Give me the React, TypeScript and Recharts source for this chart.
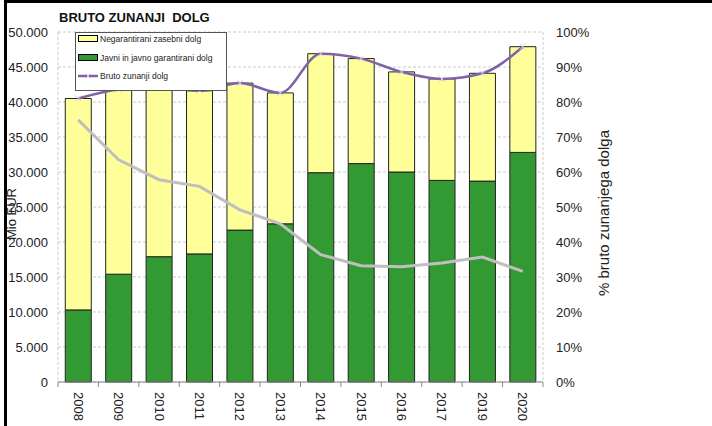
import { Bar, CartesianGrid, ComposedChart, Legend, Line, XAxis, YAxis } from "recharts";

const years = ["2008", "2009", "2010", "2011", "2012", "2013", "2014", "2015", "2016", "2017", "2019", "2020"];
// mio EUR
const javniDolg = [10300, 15400, 17900, 18300, 21700, 22600, 29900, 31200, 30000, 28800, 28700, 32800];
const zasebniDolg = [30200, 26400, 24200, 23300, 21000, 18700, 17000, 15000, 14300, 14500, 15400, 15100];
const brutoDolg = [40500, 41800, 42100, 41600, 42700, 41300, 46900, 46200, 44300, 43300, 44100, 47900];
// % (desna os)
const delez = [74.9, 63.5, 57.8, 55.9, 49.2, 45.2, 36.4, 33.2, 32.9, 34.0, 35.7, 31.6];

const leftTicks = [0, 5000, 10000, 15000, 20000, 25000, 30000, 35000, 40000, 45000, 50000];
const rightTicks = [0, 10, 20, 30, 40, 50, 60, 70, 80, 90, 100];

const data = years.map((year, i) => ({
  year,
  javni: javniDolg[i],
  zasebni: zasebniDolg[i],
  bruto: brutoDolg[i],
  delez: delez[i],
}));

const FONT = "'Liberation Sans', Arial, sans-serif";
const YELLOW = "#FFFF99";
const GREEN = "#339933";
const PURPLE = "#7F63A8";
const GREY = "#BFBFBF";

const fmtThousands = (v: number) => (v === 0 ? "0" : `${Math.floor(v / 1000)}.${String(v % 1000).padStart(3, "0")}`);

function YearTick(props: any) {
  const { x, y, payload, index } = props;
  const half = payload?.offset ?? 20.2;
  const axisY = y - 8;
  return (
    <g>
      <line x1={x - half} x2={x - half} y1={axisY} y2={axisY + 5} stroke="#888" />
      {index === years.length - 1 && (
        <line x1={x + half} x2={x + half} y1={axisY} y2={axisY + 5} stroke="#888" />
      )}
      <text
        transform={`translate(${x},${y + 2}) rotate(90)`}
        textAnchor="start"
        dominantBaseline="central"
        fontSize={13}
        fill="#222"
        fontFamily={FONT}
      >
        {payload.value}
      </text>
    </g>
  );
}

function CrossDot(props: any) {
  const { cx, cy } = props;
  if (cx == null || cy == null) return null;
  return (
    <path
      d={`M${cx - 3},${cy - 3}L${cx + 3},${cy + 3}M${cx - 3},${cy + 3}L${cx + 3},${cy - 3}`}
      stroke="#D8D2EA"
      strokeWidth={1}
    />
  );
}

function LegendBox() {
  return (
    <svg width={153} height={60} style={{ display: "block" }}>
      <rect x={0.5} y={0.5} width={151} height={58} fill="#fff" stroke="#555" />
      <rect x={3.5} y={3.5} width={19} height={6} fill={YELLOW} stroke="#000" />
      <text x={25} y={6.5} dominantBaseline="central" fontSize={8.5} fill="#222" fontFamily={FONT}>
        Negarantirani zasebni dolg
      </text>
      <rect x={3.5} y={22.5} width={19} height={6} fill={GREEN} stroke="#000" />
      <text x={25} y={25.5} dominantBaseline="central" fontSize={8.5} fill="#222" fontFamily={FONT}>
        Javni in javno garantirani dolg
      </text>
      <line x1={3} x2={23} y1={44} y2={44} stroke={PURPLE} strokeWidth={2.5} />
      <CrossDot cx={13} cy={44} />
      <text x={25} y={44} dominantBaseline="central" fontSize={8.5} fill="#222" fontFamily={FONT}>
        Bruto zunanji dolg
      </text>
    </svg>
  );
}

export default function App() {
  return (
    <div style={{ position: "absolute", left: 0, top: 0, width: 712, height: 426, background: "#fff", fontFamily: FONT }}>
      <div style={{ position: "absolute", left: 4, top: 0, width: 708, height: 3, background: "#000" }} />
      <div style={{ position: "absolute", left: 4, top: 0, width: 3, height: 426, background: "#000" }} />
      <div style={{ position: "absolute", left: 59, top: 10, fontSize: 13, fontWeight: "bold", color: "#111", whiteSpace: "pre" }}>
        BRUTO ZUNANJI  DOLG
      </div>
      <ComposedChart width={712} height={426} data={data} margin={{ top: 32, right: 109, bottom: 0, left: 0 }} barCategoryGap="18%">
        <CartesianGrid
          yAxisId="left"
          stroke="#CCCCCC"
          strokeDasharray="3 2"
          verticalCoordinatesGenerator={({ offset }: any) => [offset.left, offset.left + offset.width]}
        />
        <XAxis
          dataKey="year"
          interval={0}
          tickLine={false}
          tickSize={6}
          tickMargin={2}
          height={44}
          axisLine={{ stroke: "#888" }}
          tick={<YearTick />}
        />
        <YAxis
          yAxisId="left"
          width={58}
          domain={[0, 50000]}
          ticks={leftTicks}
          tickFormatter={fmtThousands}
          axisLine={false}
          tickLine={false}
          tickMargin={4}
          tick={{ fontSize: 13, fill: "#222", fontFamily: FONT }}
          label={{
            content: () => (
              <text
                transform="translate(11,214) rotate(-90)"
                textAnchor="middle"
                dominantBaseline="central"
                fontSize={13}
                fill="#222"
                fontFamily={FONT}
              >
                Mio EUR
              </text>
            ),
          }}
        />
        <YAxis
          yAxisId="right"
          orientation="right"
          width={60}
          domain={[0, 100]}
          ticks={rightTicks}
          tickFormatter={(v: number) => `${v}%`}
          axisLine={false}
          tickLine={false}
          tickMargin={7}
          tick={{ fontSize: 13, fill: "#222", fontFamily: FONT, textAnchor: "start" }}
          label={{
            content: () => (
              <text
                transform="translate(603,213) rotate(-90)"
                textAnchor="middle"
                dominantBaseline="central"
                fontSize={15}
                fill="#222"
                fontFamily={FONT}
              >
                % bruto zunanjega  dolga
              </text>
            ),
          }}
        />
        <Legend
          layout="vertical"
          align="center"
          verticalAlign="middle"
          wrapperStyle={{ position: "absolute", left: 75, top: 32, width: 153, height: 60 }}
          content={() => <LegendBox />}
        />
        <Bar yAxisId="left" dataKey="javni" stackId="d" fill={GREEN} stroke="#222" strokeWidth={1} isAnimationActive={false} />
        <Bar yAxisId="left" dataKey="zasebni" stackId="d" fill={YELLOW} stroke="#222" strokeWidth={1} isAnimationActive={false} />
        <Line
          yAxisId="left"
          dataKey="bruto"
          type="monotone"
          stroke={PURPLE}
          strokeWidth={2.5}
          dot={<CrossDot />}
          activeDot={false}
          isAnimationActive={false}
        />
        <Line
          yAxisId="right"
          dataKey="delez"
          type="linear"
          stroke={GREY}
          strokeWidth={3}
          dot={false}
          activeDot={false}
          isAnimationActive={false}
        />
      </ComposedChart>
    </div>
  );
}
